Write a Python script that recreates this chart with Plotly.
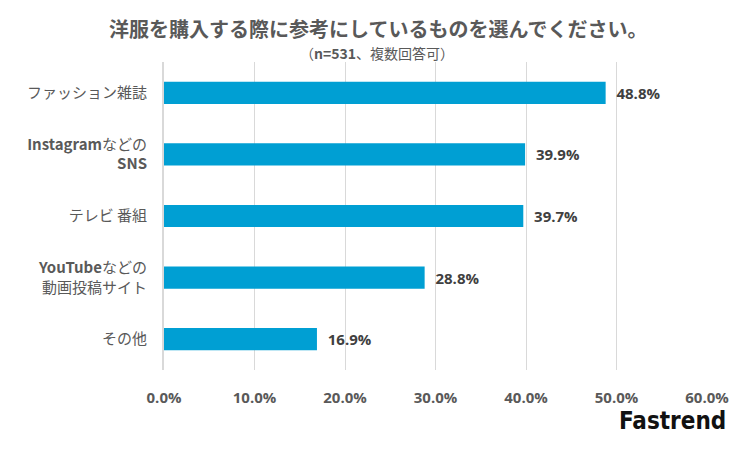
import plotly.graph_objects as go

categories = ["ファッション雑誌", "<b>Instagram</b>などの<br><b>SNS</b>", "テレビ 番組", "<b>YouTube</b>などの<br>動画投稿サイト", "その他"]
values = [48.8, 39.9, 39.7, 28.8, 16.9]
tick_vals = [0, 10, 20, 30, 40, 50, 60]
tick_text = ["<b>0.0%</b>", "<b>10.0%</b>", "<b>20.0%</b>", "<b>30.0%</b>", "<b>40.0%</b>", "<b>50.0%</b>", "<b>60.0%</b>"]

# page body has an 8px margin; work in screen coordinates
OFF = 8
W, H = 734, 434
x0, x1, y0, y1 = 164, 707, 62, 370  # plot area in screen pixels
l, t = x0 - OFF, y0 - OFF
r = W - (x1 - OFF)
b = H - (y1 - OFF)
pw, ph = x1 - x0, y1 - y0

def px(xs):
    return (xs - x0) / pw

def py(ys):
    return (y1 - ys) / ph

fig = go.Figure(go.Bar(
    x=values, y=categories, orientation="h",
    marker=dict(color="#009FD3", line=dict(width=0)),
    width=0.36,
    text=[f"  <b>{v:.1f}%</b>" for v in values],
    textposition="outside", textfont=dict(size=15, color="#404040", family="Open Sans, Noto Sans CJK JP"),
    cliponaxis=False,
))

fig.update_layout(
    width=W, height=H,
    margin=dict(l=l, r=r, t=t, b=b),
    paper_bgcolor="white", plot_bgcolor="white",
    font=dict(family="Noto Sans CJK JP, Open Sans", color="#595959"),
    showlegend=False,
    xaxis=dict(range=[0, 60], tickvals=tick_vals, ticktext=tick_text, automargin=False,
               showgrid=True, gridcolor="#D9D9D9", gridwidth=1,
               zeroline=False, showline=False, ticks="",
               tickfont=dict(size=15, color="#595959", family="Open Sans"),
               ticklabelstandoff=17),
    yaxis=dict(autorange="reversed", showline=True, linecolor="#D9D9D9", linewidth=2, automargin=False,
               ticks="", tickfont=dict(size=15, color="#595959"), ticklabelstandoff=12),
    annotations=[
        dict(text="<b>洋服を購入する際に参考にしているものを選んでください。</b>", x=px(378), xref="paper",
             y=py(29), yref="paper", yanchor="middle", xanchor="center", showarrow=False,
             font=dict(size=20, color="#595959")),
        dict(text="（<b>n=531</b>、複数回答可）", x=px(377), xref="paper", y=py(53), yref="paper",
             yanchor="middle", xanchor="center", showarrow=False, font=dict(size=14, color="#595959")),
        dict(text="<b>Fastrend</b>", x=px(728), xref="paper", y=py(421), yref="paper",
             xanchor="right", yanchor="middle", showarrow=False,
             font=dict(size=24, color="#111111", family="DejaVu Sans Condensed, DejaVu Sans")),
    ],
)

fig.write_html("out.html")
